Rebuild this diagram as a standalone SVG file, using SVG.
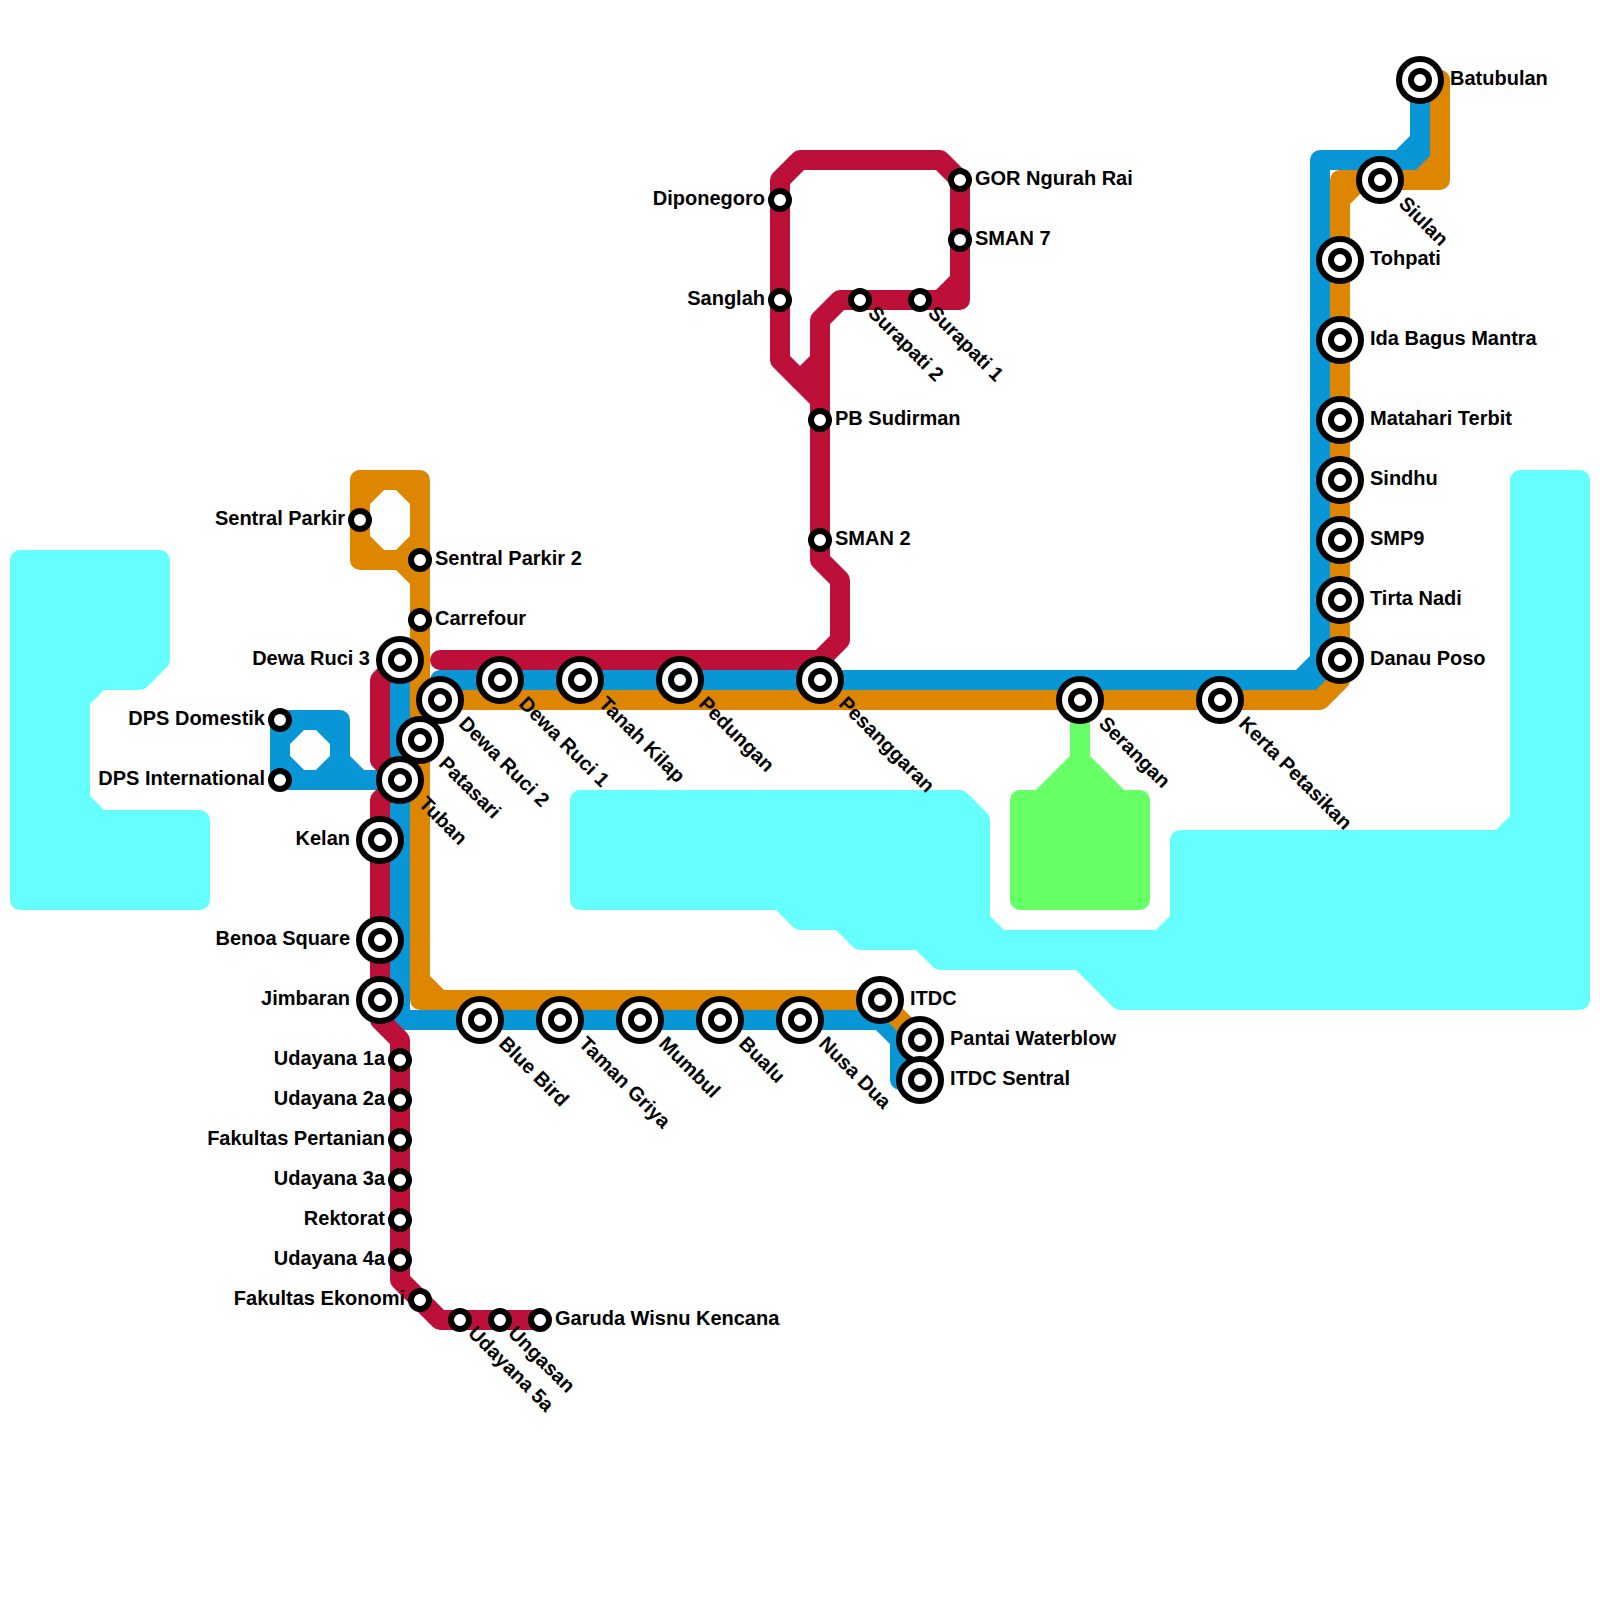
<svg xmlns="http://www.w3.org/2000/svg" width="1600" height="1600" viewBox="0 0 1600 1600">
<style>
.l{fill:none;stroke-width:20;stroke-linecap:round;stroke-linejoin:round}
.w{fill:#66ffff;stroke:#66ffff;stroke-width:20;stroke-linejoin:round}
.g{fill:#66ff66;stroke:#66ff66;stroke-width:20;stroke-linejoin:round;stroke-linecap:round}
.red{stroke:#bd1038}.blue{stroke:#0896d7}.orange{stroke:#df8600}
.o{fill:#fff;stroke:#000;stroke-width:6}
.i{fill:#fff;stroke:#000;stroke-width:6}
text{font-family:"Liberation Sans",Arial,sans-serif;font-weight:700;font-size:20px;fill:#000}
.e{text-anchor:end}
</style>
<defs>
<g id="big"><circle class="o" r="21"/><circle class="i" r="9"/></g>
<circle id="small" class="i" r="9"/>
</defs>
<rect width="1600" height="1600" fill="#fff"/>
<g id="water">
<polygon class="w" points="20,560 160,560 160,660 140,680 100,680 80,700 80,800 100,820 200,820 200,900 20,900"/>
<polygon class="w" points="580,800 960,800 980,820 980,920 1000,940 1160,940 1180,920 1180,840 1500,840 1520,820 1520,480 1580,480 1580,1000 1120,1000 1080,960 940,960 920,940 860,940 840,920 800,920 780,900 580,900"/>
</g>
<g id="park">
<path class="g" d="M1080 700V760L1040 800H1020V900H1140V800H1120L1080 760Z"/>
</g>
<g id="connectors">
<g id="line-blue" class="l blue">
<path d="M1420 80V160H1320V680H440"/>
<path d="M1420 140L1400 160M1320 660L1300 680"/>
<path d="M400 680V1020H880L900 1040V1080H920"/>
<path d="M280 720H340V760L360 780H400M280 780H360M280 720V780"/>
<path d="M320 720L340 740M340 760L320 780M300 780L280 760M280 740L300 720"/>
</g>
<g id="line-orange" class="l orange">
<path d="M1440 80H1440V180H1340V660"/>
<path d="M1420 80H1440M1440 160L1420 180M1340 200L1360 180"/>
<path d="M1340 660V680L1320 700H440"/>
<path d="M360 480H420V1000H880L920 1040"/>
<path d="M420 980L440 1000M420 560H360V480"/>
<path d="M400 560L420 580M400 480L420 500M420 540L400 560M380 560L360 540M360 500L380 480"/>
</g>
<g id="line-red" class="l red">
<path d="M440 660H820L840 640V580L820 560V320L840 300H960V180L940 160H800L780 180V360L820 400"/>
<path d="M960 280L940 300M820 360L800 380"/>
<path d="M400 660L380 680V760L400 780L380 800V1020L400 1040V1280L440 1320H540"/>
</g>
</g>
<g id="nodes">
<g id="s-sentral-parkir" transform="translate(360,520)"><use href="#small"/><text class="e" x="-15" y="5">Sentral Parkir</text></g>
<g id="s-sentral-parkir-2" transform="translate(420,560)"><use href="#small"/><text x="15" y="5">Sentral Parkir 2</text></g>
<g id="s-carrefour" transform="translate(420,620)"><use href="#small"/><text x="15" y="5">Carrefour</text></g>
<g id="s-dewa-ruci-3" transform="translate(400,660)"><use href="#big"/><text class="e" x="-30" y="5">Dewa Ruci 3</text></g>
<g id="s-dps-domestik" transform="translate(280,720)"><use href="#small"/><text class="e" x="-15" y="5">DPS Domestik</text></g>
<g id="s-dps-international" transform="translate(280,780)"><use href="#small"/><text class="e" x="-15" y="5">DPS International</text></g>
<g id="s-dewa-ruci-2" transform="translate(440,700)"><use href="#big"/><text transform="rotate(45)" x="30" y="5">Dewa Ruci 2</text></g>
<g id="s-dewa-ruci-1" transform="translate(500,680)"><use href="#big"/><text transform="rotate(45)" x="30" y="5">Dewa Ruci 1</text></g>
<g id="s-tanah-kilap" transform="translate(580,680)"><use href="#big"/><text transform="rotate(45)" x="30" y="5">Tanah Kilap</text></g>
<g id="s-pedungan" transform="translate(680,680)"><use href="#big"/><text transform="rotate(45)" x="30" y="5">Pedungan</text></g>
<g id="s-pesanggaran" transform="translate(820,680)"><use href="#big"/><text transform="rotate(45)" x="30" y="5">Pesanggaran</text></g>
<g id="s-patasari" transform="translate(420,740)"><use href="#big"/><text transform="rotate(45)" x="30" y="5">Patasari</text></g>
<g id="s-tuban" transform="translate(400,780)"><use href="#big"/><text transform="rotate(45)" x="30" y="5">Tuban</text></g>
<g id="s-kelan" transform="translate(380,840)"><use href="#big"/><text class="e" x="-30" y="5">Kelan</text></g>
<g id="s-benoa-square" transform="translate(380,940)"><use href="#big"/><text class="e" x="-30" y="5">Benoa Square</text></g>
<g id="s-jimbaran" transform="translate(380,1000)"><use href="#big"/><text class="e" x="-30" y="5">Jimbaran</text></g>
<g id="s-udayana-1a" transform="translate(400,1060)"><use href="#small"/><text class="e" x="-15" y="5">Udayana 1a</text></g>
<g id="s-udayana-2a" transform="translate(400,1100)"><use href="#small"/><text class="e" x="-15" y="5">Udayana 2a</text></g>
<g id="s-fakultas-pertanian" transform="translate(400,1140)"><use href="#small"/><text class="e" x="-15" y="5">Fakultas Pertanian</text></g>
<g id="s-udayana-3a" transform="translate(400,1180)"><use href="#small"/><text class="e" x="-15" y="5">Udayana 3a</text></g>
<g id="s-rektorat" transform="translate(400,1220)"><use href="#small"/><text class="e" x="-15" y="5">Rektorat</text></g>
<g id="s-udayana-4a" transform="translate(400,1260)"><use href="#small"/><text class="e" x="-15" y="5">Udayana 4a</text></g>
<g id="s-fakultas-ekonomi" transform="translate(420,1300)"><use href="#small"/><text class="e" x="-15" y="5">Fakultas Ekonomi</text></g>
<g id="s-udayana-5a" transform="translate(460,1320)"><use href="#small"/><text transform="rotate(45)" x="15" y="5">Udayana 5a</text></g>
<g id="s-ungasan" transform="translate(500,1320)"><use href="#small"/><text transform="rotate(45)" x="15" y="5">Ungasan</text></g>
<g id="s-garuda" transform="translate(540,1320)"><use href="#small"/><text x="15" y="5">Garuda Wisnu Kencana</text></g>
<g id="s-blue-bird" transform="translate(480,1020)"><use href="#big"/><text transform="rotate(45)" x="30" y="5">Blue Bird</text></g>
<g id="s-taman-griya" transform="translate(560,1020)"><use href="#big"/><text transform="rotate(45)" x="30" y="5">Taman Griya</text></g>
<g id="s-mumbul" transform="translate(640,1020)"><use href="#big"/><text transform="rotate(45)" x="30" y="5">Mumbul</text></g>
<g id="s-bualu" transform="translate(720,1020)"><use href="#big"/><text transform="rotate(45)" x="30" y="5">Bualu</text></g>
<g id="s-nusa-dua" transform="translate(800,1020)"><use href="#big"/><text transform="rotate(45)" x="30" y="5">Nusa Dua</text></g>
<g id="s-itdc" transform="translate(880,1000)"><use href="#big"/><text x="30" y="5">ITDC</text></g>
<g id="s-pantai-waterblow" transform="translate(920,1040)"><use href="#big"/><text x="30" y="5">Pantai Waterblow</text></g>
<g id="s-itdc-sentral" transform="translate(920,1080)"><use href="#big"/><text x="30" y="5">ITDC Sentral</text></g>
<g id="s-diponegoro" transform="translate(780,200)"><use href="#small"/><text class="e" x="-15" y="5">Diponegoro</text></g>
<g id="s-sanglah" transform="translate(780,300)"><use href="#small"/><text class="e" x="-15" y="5">Sanglah</text></g>
<g id="s-gor" transform="translate(960,180)"><use href="#small"/><text x="15" y="5">GOR Ngurah Rai</text></g>
<g id="s-sman-7" transform="translate(960,240)"><use href="#small"/><text x="15" y="5">SMAN 7</text></g>
<g id="s-surapati-1" transform="translate(920,300)"><use href="#small"/><text transform="rotate(45)" x="15" y="5">Surapati 1</text></g>
<g id="s-surapati-2" transform="translate(860,300)"><use href="#small"/><text transform="rotate(45)" x="15" y="5">Surapati 2</text></g>
<g id="s-pb-sudirman" transform="translate(820,420)"><use href="#small"/><text x="15" y="5">PB Sudirman</text></g>
<g id="s-sman-2" transform="translate(820,540)"><use href="#small"/><text x="15" y="5">SMAN 2</text></g>
<g id="s-batubulan" transform="translate(1420,80)"><use href="#big"/><text x="30" y="5">Batubulan</text></g>
<g id="s-siulan" transform="translate(1380,180)"><use href="#big"/><text transform="rotate(45)" x="30" y="5">Siulan</text></g>
<g id="s-tohpati" transform="translate(1340,260)"><use href="#big"/><text x="30" y="5">Tohpati</text></g>
<g id="s-ida-bagus" transform="translate(1340,340)"><use href="#big"/><text x="30" y="5">Ida Bagus Mantra</text></g>
<g id="s-matahari" transform="translate(1340,420)"><use href="#big"/><text x="30" y="5">Matahari Terbit</text></g>
<g id="s-sindhu" transform="translate(1340,480)"><use href="#big"/><text x="30" y="5">Sindhu</text></g>
<g id="s-smp9" transform="translate(1340,540)"><use href="#big"/><text x="30" y="5">SMP9</text></g>
<g id="s-tirta-nadi" transform="translate(1340,600)"><use href="#big"/><text x="30" y="5">Tirta Nadi</text></g>
<g id="s-danau-poso" transform="translate(1340,660)"><use href="#big"/><text x="30" y="5">Danau Poso</text></g>
<g id="s-serangan" transform="translate(1080,700)"><use href="#big"/><text transform="rotate(45)" x="30" y="5">Serangan</text></g>
<g id="s-kerta-petasikan" transform="translate(1220,700)"><use href="#big"/><text transform="rotate(45)" x="30" y="5">Kerta Petasikan</text></g>
</g>
</svg>
